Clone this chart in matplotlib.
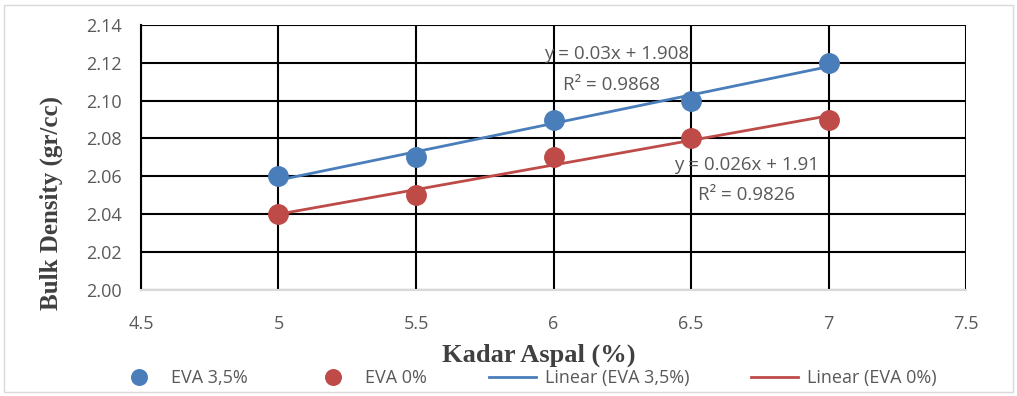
import numpy as np
import matplotlib.pyplot as plt
from matplotlib.patches import Rectangle

kadar = [5, 5.5, 6, 6.5, 7]
eva35 = [2.06, 2.07, 2.09, 2.10, 2.12]
eva0 = [2.04, 2.05, 2.07, 2.08, 2.09]
xticks = [4.5, 5, 5.5, 6, 6.5, 7, 7.5]
yticks = [2.00, 2.02, 2.04, 2.06, 2.08, 2.10, 2.12, 2.14]

blue = "#4a7ebb"
red = "#be4b48"
grey = "#595959"
tick_font = "Open Sans"

fig = plt.figure(figsize=(10.17, 3.96), dpi=100)
ax = fig.add_axes([0.1386, 0.268, 0.8114, 0.669])
fig.patches.append(Rectangle((0.004, 0.01), 0.992, 0.978, transform=fig.transFigure,
                             fill=False, edgecolor="#d9d9d9", linewidth=1))

x = np.array(kadar)
xs = np.array([min(kadar), max(kadar)])
for y, c, lab in [(eva35, blue, "EVA 3,5%"), (eva0, red, "EVA 0%")]:
    ax.plot(x, y, "o", color=c, markersize=14, markeredgecolor=c, label=lab, zorder=4)
for y, c, lab in [(eva35, blue, "EVA 3,5%"), (eva0, red, "EVA 0%")]:
    m, b = np.polyfit(x, y, 1)
    ax.plot(xs, m * xs + b, color=c, linewidth=2, label="Linear (%s)" % lab, zorder=3)

ax.set_xlim(4.5, 7.5)
ax.set_ylim(2.00, 2.14)
ax.set_xticks(xticks)
ax.set_xticklabels(["%g" % v for v in xticks])
ax.set_yticks(yticks)
ax.set_yticklabels(["%.2f" % v for v in yticks])
ax.tick_params(length=0, labelsize=13, colors=grey)
ax.tick_params(axis="x", pad=18)
ax.tick_params(axis="y", pad=14)
for t in ax.get_xticklabels() + ax.get_yticklabels():
    t.set_family(tick_font)

ax.grid(True, color="black", linewidth=1.5)
ax.set_axisbelow(True)
for s in ["top", "right"]:
    ax.spines[s].set_visible(False)
ax.spines["left"].set_color("black")
ax.spines["left"].set_linewidth(1.5)
ax.spines["bottom"].set_color("#d9d9d9")
ax.spines["bottom"].set_linewidth(1.5)
ax.axhline(2.0, color="#d9d9d9", linewidth=1.5, zorder=2.5)

ann = dict(ha="center", va="center", fontsize=13.5, color=grey, family=tick_font)
ax.text(6.23, 2.1245, "y = 0.03x + 1.908", **ann)
ax.text(6.21, 2.1083, "R² = 0.9868", **ann)
ax.text(6.70, 2.066, "y = 0.026x + 1.91", **ann)
ax.text(6.70, 2.0502, "R² = 0.9826", **ann)

fig.text(0.53, 0.104, "Kadar Aspal (%)", family="Liberation Serif", fontweight="bold",
         fontsize=19, color="#404040", ha="center", va="center")
fig.text(0.05, 0.487, "Bulk Density (gr/cc)", family="Liberation Serif", fontweight="bold",
         fontsize=18, color="#404040", ha="center", va="center", rotation=90)

leg = fig.legend(loc="center", bbox_to_anchor=(0.517, 0.045), ncol=4, frameon=False,
                 prop={"family": tick_font, "size": 13}, handlelength=2.6,
                 columnspacing=3.4, handletextpad=0.5, markerscale=0.8,
                 borderpad=0)
for t in leg.get_texts():
    t.set_color(grey)

fig.savefig("out.png", dpi=100)
